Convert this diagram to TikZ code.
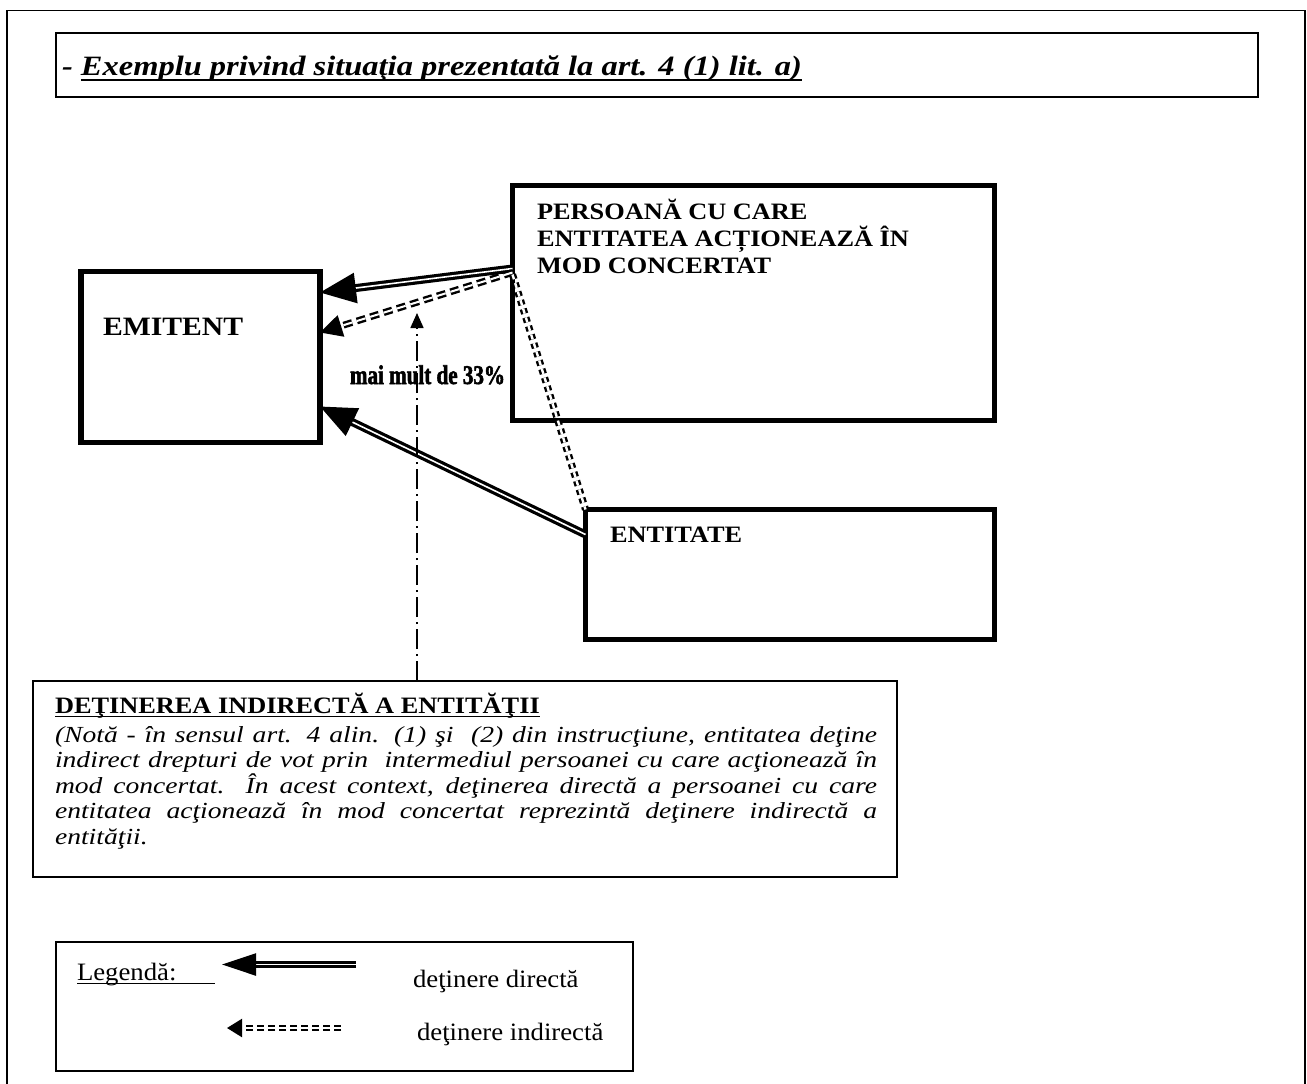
\documentclass[tikz,border=0pt]{standalone}
\usepackage{fontspec}
\setmainfont{Liberation Serif}
\newfontfamily\LabFont{Liberation Serif}[FakeStretch=1.12]
\newfontfamily\NoteFont{Liberation Serif}[FakeStretch=1.2]
\newfontfamily\TitleFont{Liberation Serif}[FakeStretch=1.16]
\newfontfamily\PctFont{Liberation Serif}[FakeStretch=0.78,FakeBold=2]
\newfontfamily\LegFont{Liberation Serif}[FakeStretch=1.07]
\usetikzlibrary{arrows.meta,calc}
\newcommand\thickul[3]{\setbox0\hbox{#1}\leavevmode\rlap{\rule[-#2]{\wd0}{#3}}\box0}
\begin{document}
\begin{tikzpicture}[x=1pt,y=-1pt,
  bigbox/.style={draw, line width=5.5pt, inner sep=0pt, outer sep=0pt},
  thinbox/.style={draw, line width=1.8pt, inner sep=0pt, outer sep=0pt},
  txt/.style={anchor=base west, inner sep=0pt, outer sep=0pt},
  directarr/.style={double=white, double distance=1.6pt, line width=3.2pt,
    -{Triangle[length=36pt,width=30pt]}},
  indirectarr/.style={double=white, double distance=2pt, line width=2.4pt,
    dash pattern=on 9pt off 5pt, -{Triangle[length=22pt,width=22pt]}},
  linkdash/.style={double=white, double distance=2.4pt, line width=2.4pt,
    dash pattern=on 5pt off 4pt},
  dashdotarr/.style={line width=1.6pt, dash pattern=on 20pt off 5pt on 2pt off 5pt,
    -{Triangle[length=15pt,width=13pt]}},
  legdirect/.style={double=white, double distance=1.6pt, line width=2.4pt,
    -{Triangle[length=34pt,width=22pt]}},
  legindirect/.style={double=white, double distance=2pt, line width=2.2pt,
    dash pattern=on 7pt off 4pt, -{Triangle[length=15pt,width=18pt]}},
]
\useasboundingbox (0,0) rectangle (1307,1084);
\fill[white] (0,0) rectangle (1307,1084);
% outer frame (open at the bottom)
\draw[line width=1.8pt] (7,1095) -- (7,10.5) -- (1305,10.5) -- (1305,1095);

% boxes
\node[thinbox, minimum width=1202pt, minimum height=64pt] (title) at (657,65) {};
\node[bigbox, minimum width=239pt, minimum height=171pt] (emit) at (200.5,357) {};
\node[bigbox, minimum width=482pt, minimum height=235pt] (pers) at (753.5,303) {};
\node[bigbox, minimum width=409pt, minimum height=130pt] (ent) at (790,574.5) {};
\node[thinbox, minimum width=864pt, minimum height=196pt] (note) at (465,779) {};
\node[thinbox, minimum width=577pt, minimum height=129pt] (leg) at (344.5,1006.5) {};

% texts
\node[txt] (ttl) at (62,75) {\TitleFont\bfseries\itshape\fontsize{28pt}{32pt}\selectfont
  - \thickul{Exemplu privind situaţia prezentată la art. 4 (1) lit. a)}{6pt}{1.8pt}};
\node[txt] (emitt) at (103,335) {\LabFont\bfseries\fontsize{26.5pt}{30pt}\selectfont EMITENT};
\node[txt] (perst) at (537,219) {\LabFont\bfseries\fontsize{23.5pt}{27pt}\selectfont
  \vtop{\baselineskip=27pt\lineskiplimit=-100pt
  \hbox{PERSOANĂ CU CARE}\hbox{ENTITATEA ACȚIONEAZĂ ÎN}\hbox{MOD CONCERTAT}}};
\node[txt] (entt) at (610,542) {\LabFont\bfseries\fontsize{23.5pt}{27pt}\selectfont ENTITATE};
\node[txt] (pct) at (350,384) {\PctFont\bfseries\fontsize{27pt}{30pt}\selectfont mai mult de 33\%};

\node[txt] (head) at (55,713) {\LabFont\bfseries\fontsize{23.5pt}{27pt}\selectfont
  \thickul{DEŢINEREA INDIRECTĂ A ENTITĂŢII}{4pt}{1.5pt}};
\node[txt] (body) at (55,742) {\NoteFont\itshape\fontsize{23pt}{25.5pt}\selectfont
  \vtop{\baselineskip=25.5pt\lineskiplimit=-100pt
  \hbox{\makebox[822pt][s]{(Notă - în sensul art. 4 alin. (1) şi\ \ (2) din instrucţiune, entitatea deţine}}
  \hbox{\makebox[822pt][s]{indirect drepturi de vot prin\ \ intermediul persoanei cu care acţionează în}}
  \hbox{\makebox[822pt][s]{mod concertat. În acest context, deţinerea directă a persoanei cu care}}
  \hbox{\makebox[822pt][s]{entitatea acţionează în mod concertat reprezintă deţinere indirectă a}}
  \hbox{entităţii.}}};

\node[txt] (legt) at (77,980) {\LegFont\fontsize{25pt}{28pt}\selectfont
  \thickul{Legendă:\hspace{38pt}}{4pt}{1pt}};
\node[txt] (legd) at (413,987) {\LegFont\fontsize{25pt}{28pt}\selectfont deţinere directă};
\node[txt] (legi) at (417,1040) {\LegFont\fontsize{25pt}{28pt}\selectfont deţinere indirectă};

% connectors
\draw[directarr] ([yshift=-83pt]pers.north west) -- ([yshift=-21pt]emit.north east);
\draw[indirectarr] ([yshift=-87pt]pers.north west) -- ([yshift=-61pt]emit.north east);
\draw[directarr] ([yshift=-25pt]ent.north west) -- ([yshift=-135pt]emit.north east);
\draw[linkdash] ([yshift=-89pt]pers.north west) -- (ent.north west);
\coordinate (tipA) at (417,313);
\draw[dashdotarr] (note.north -| tipA) -- (tipA);

% legend arrows
\coordinate (la1) at (356,964.5);
\coordinate (la2) at (222,964.5);
\draw[legdirect] (la1) -- (la2);
\coordinate (lb1) at (341,1028);
\coordinate (lb2) at (227,1028);
\draw[legindirect] (lb1) -- (lb2);
\end{tikzpicture}
\end{document}
